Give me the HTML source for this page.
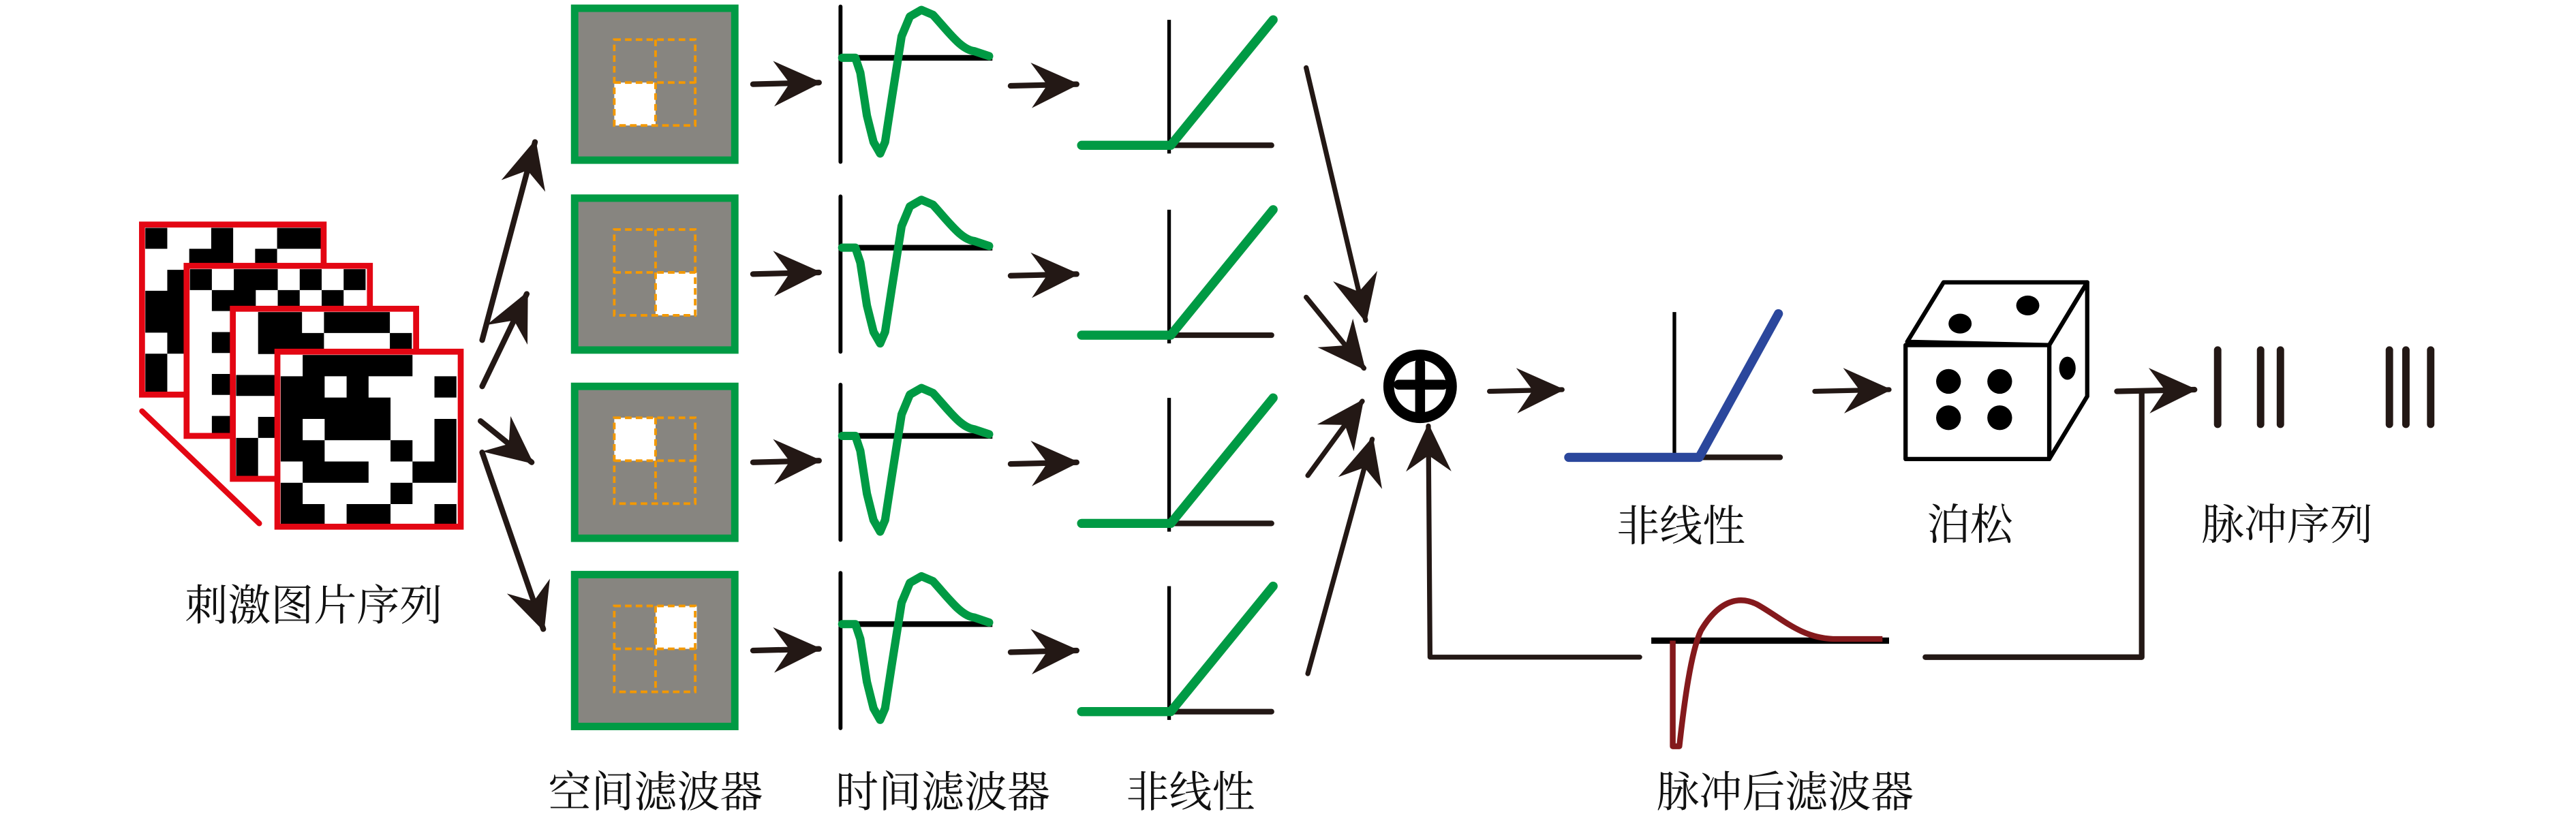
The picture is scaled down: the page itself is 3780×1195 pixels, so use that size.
<!DOCTYPE html>
<html><head><meta charset="utf-8"><style>
html,body{margin:0;padding:0;background:#fff;}
svg{display:block;}
text{font-family:"Liberation Serif","Noto Serif CJK SC",serif;font-size:26px;fill:#111;}
</style></head><body>
<svg width="3780" height="1195" viewBox="0 0 1560 493" preserveAspectRatio="none" xmlns="http://www.w3.org/2000/svg">
<defs>
<marker id="ah" markerUnits="userSpaceOnUse" markerWidth="34" markerHeight="34" viewBox="-19 -9 21 18" refX="0" refY="0" orient="auto">
<path d="M1,0 L-17,-8.5 L-11,0 L-17,8.5 z" fill="#231815"/>
</marker>
<g id="tf">
<line x1="509" y1="4" x2="509" y2="98" stroke="#000" stroke-width="2.4" stroke-linecap="round"/>
<line x1="509" y1="35" x2="601" y2="35" stroke="#000" stroke-width="3.4"/>
<path d="M510,35 L518,35 L521,44 L525,70 L529,86 L533,93 L536,86 L540,60 L546,22 L551,10 L558,6 L565,9 C575,20 582,30 590,31 L599,34" fill="none" stroke="#009a44" stroke-width="5" stroke-linejoin="round" stroke-linecap="round"/>
</g>
<g id="nl">
<line x1="708" y1="12" x2="708" y2="93" stroke="#000" stroke-width="2.2"/>
<line x1="708" y1="88" x2="770" y2="88" stroke="#231815" stroke-width="3.4" stroke-linecap="round"/>
<path d="M655,88 L709,88 L771,12" fill="none" stroke="#009a44" stroke-width="5.5" stroke-linecap="round" stroke-linejoin="round"/>
</g>
<g id="arr2">
<line x1="456" y1="51" x2="496" y2="50" stroke="#231815" stroke-width="3.4" stroke-linecap="round" marker-end="url(#ah)"/>
<line x1="612" y1="52" x2="652" y2="51" stroke="#231815" stroke-width="3.4" stroke-linecap="round" marker-end="url(#ah)"/>
</g>
</defs>

<g>
<rect x="86" y="136" width="110" height="103" fill="#fff"/>
<g transform="translate(88,138) scale(13.3,12.7)"><path d="M0 0h1v1h-1z M3 0h1v1h-1z M6 0h2v1h-2z M2 1h2v1h-2z M5 1h1v1h-1z M1 2h1v1h-1z M0 3h2v1h-2z M0 4h2v1h-2z M1 5h1v1h-1z M0 6h1v1h-1z M0 7h1v1h-1z" fill="#000"/></g>
<rect x="86" y="136" width="110" height="103" fill="none" stroke="#e30613" stroke-width="3.6"/>
</g>
<g>
<rect x="113" y="161" width="111" height="103" fill="#fff"/>
<g transform="translate(115,163) scale(13.3,12.7)"><path d="M0 0h1v1h-1z M2 0h2v1h-2z M5 0h1v1h-1z M7 0h1v1h-1z M1 1h2v1h-2z M4 1h1v1h-1z M6 1h1v1h-1z M1 3h1v1h-1z M1 5h1v1h-1z M1 7h1v1h-1z" fill="#000"/></g>
<rect x="113" y="161" width="111" height="103" fill="none" stroke="#e30613" stroke-width="3.6"/>
</g>
<g>
<rect x="141" y="187" width="111" height="103" fill="#fff"/>
<g transform="translate(143,189) scale(13.3,12.7)"><path d="M1 0h2v1h-2z M4 0h3v1h-3z M1 1h3v1h-3z M7 1h1v1h-1z M0 3h2v1h-2z M1 5h1v1h-1z M0 6h1v1h-1z M0 7h1v1h-1z" fill="#000"/></g>
<rect x="141" y="187" width="111" height="103" fill="none" stroke="#e30613" stroke-width="3.6"/>
</g>
<g>
<rect x="168" y="213" width="111" height="106" fill="#fff"/>
<g transform="translate(170,215) scale(13.3,12.9)"><path d="M1 0h5v1h-5z M0 1h2v1h-2z M3 1h1v1h-1z M7 1h1v1h-1z M0 2h5v1h-5z M0 3h1v1h-1z M2 3h3v1h-3z M7 3h1v1h-1z M0 4h2v1h-2z M5 4h1v1h-1z M7 4h1v1h-1z M1 5h3v1h-3z M6 5h2v1h-2z M0 6h1v1h-1z M5 6h1v1h-1z M0 7h2v1h-2z M3 7h2v1h-2z M7 7h1v1h-1z" fill="#000"/></g>
<rect x="168" y="213" width="111" height="106" fill="none" stroke="#e30613" stroke-width="3.6"/>
</g>
<line x1="86" y1="249" x2="157" y2="317" stroke="#e30613" stroke-width="3.4" stroke-linecap="round"/>

<g stroke="#231815" stroke-width="3.4" stroke-linecap="round">
<line x1="292" y1="206" x2="324" y2="86" marker-end="url(#ah)"/>
<line x1="292" y1="234" x2="319" y2="178" marker-end="url(#ah)"/>
<line x1="291" y1="255" x2="322" y2="280" marker-end="url(#ah)"/>
<line x1="292" y1="274" x2="329" y2="381" marker-end="url(#ah)"/>
</g>

<g>
<g>
<rect x="348" y="5" width="97" height="92" fill="#878580" stroke="#009a44" stroke-width="4.5"/>
<rect x="372" y="50" width="25" height="26" fill="#fff"/>
<g fill="none" stroke="#f39800" stroke-width="1.6" stroke-dasharray="4,2.5"><rect x="372" y="24" width="49" height="52"/><line x1="397" y1="24" x2="397" y2="76"/><line x1="372" y1="50" x2="421" y2="50"/></g>
</g>
<g transform="translate(0,115)">
<rect x="348" y="5" width="97" height="92" fill="#878580" stroke="#009a44" stroke-width="4.5"/>
<rect x="397" y="50" width="25" height="26" fill="#fff"/>
<g fill="none" stroke="#f39800" stroke-width="1.6" stroke-dasharray="4,2.5"><rect x="372" y="24" width="49" height="52"/><line x1="397" y1="24" x2="397" y2="76"/><line x1="372" y1="50" x2="421" y2="50"/></g>
</g>
<g transform="translate(0,229)">
<rect x="348" y="5" width="97" height="92" fill="#878580" stroke="#009a44" stroke-width="4.5"/>
<rect x="372" y="24" width="25" height="26" fill="#fff"/>
<g fill="none" stroke="#f39800" stroke-width="1.6" stroke-dasharray="4,2.5"><rect x="372" y="24" width="49" height="52"/><line x1="397" y1="24" x2="397" y2="76"/><line x1="372" y1="50" x2="421" y2="50"/></g>
</g>
<g transform="translate(0,343)">
<rect x="348" y="5" width="97" height="92" fill="#878580" stroke="#009a44" stroke-width="4.5"/>
<rect x="397" y="24" width="25" height="26" fill="#fff"/>
<g fill="none" stroke="#f39800" stroke-width="1.6" stroke-dasharray="4,2.5"><rect x="372" y="24" width="49" height="52"/><line x1="397" y1="24" x2="397" y2="76"/><line x1="372" y1="50" x2="421" y2="50"/></g>
</g>
</g>

<use href="#tf"/><use href="#nl"/><use href="#arr2"/>
<g transform="translate(0,115)"><use href="#tf"/><use href="#nl"/><use href="#arr2"/></g>
<g transform="translate(0,229)"><use href="#tf"/><use href="#nl"/><use href="#arr2"/></g>
<g transform="translate(0,343)"><use href="#tf"/><use href="#nl"/><use href="#arr2"/></g>

<g stroke="#231815" stroke-width="3" stroke-linecap="round">
<line x1="791" y1="41" x2="827" y2="194" marker-end="url(#ah)"/>
<line x1="791" y1="180" x2="826" y2="223" marker-end="url(#ah)"/>
<line x1="792" y1="288" x2="825" y2="243" marker-end="url(#ah)"/>
<line x1="792" y1="408" x2="831" y2="266" marker-end="url(#ah)"/>
</g>

<circle cx="860" cy="234" r="19" fill="#fff" stroke="#000" stroke-width="6.5"/>
<line x1="847" y1="233" x2="874" y2="233" stroke="#000" stroke-width="6" stroke-linecap="round"/>
<line x1="860" y1="220" x2="860" y2="251" stroke="#000" stroke-width="6" stroke-linecap="round"/>

<path d="M993,398 L866,398 L865,258" fill="none" stroke="#231815" stroke-width="3" stroke-linecap="round" stroke-linejoin="round" marker-end="url(#ah)"/>

<line x1="902" y1="237" x2="946" y2="236" stroke="#231815" stroke-width="3" stroke-linecap="round" marker-end="url(#ah)"/>

<line x1="1014" y1="189" x2="1014" y2="277" stroke="#000" stroke-width="2.2"/>
<line x1="1014" y1="277" x2="1078" y2="277" stroke="#231815" stroke-width="3.4" stroke-linecap="round"/>
<path d="M950,277 L1029,277 L1077,190" fill="none" stroke="#2b479c" stroke-width="5.5" stroke-linecap="round" stroke-linejoin="round"/>

<line x1="1099" y1="237" x2="1144" y2="236" stroke="#231815" stroke-width="3" stroke-linecap="round" marker-end="url(#ah)"/>

<g stroke="#000" stroke-width="2.6" fill="#fff" stroke-linejoin="round">
<path d="M1155,207 L1177,171 L1264,171 L1241,209 Z"/>
<path d="M1241,209 L1264,171 L1264,240 L1241,278 Z"/>
<rect x="1154" y="209" width="87" height="69"/>
</g>
<g fill="#000">
<ellipse cx="1180" cy="231" rx="7.5" ry="7.5"/><ellipse cx="1211" cy="231" rx="7.5" ry="7.5"/>
<ellipse cx="1180" cy="253" rx="7.5" ry="7.5"/><ellipse cx="1211" cy="253" rx="7.5" ry="7.5"/>
<ellipse cx="1187" cy="196" rx="7" ry="6"/><ellipse cx="1228" cy="185" rx="7" ry="6"/>
<ellipse cx="1252" cy="223" rx="5" ry="7"/>
</g>

<line x1="1282" y1="237" x2="1329" y2="236" stroke="#231815" stroke-width="3.4" stroke-linecap="round" marker-end="url(#ah)"/>
<path d="M1297,237 L1297,398 L1166,398" fill="none" stroke="#231815" stroke-width="3.4" stroke-linecap="round" stroke-linejoin="round"/>
<g stroke="#231815" stroke-width="4.5" stroke-linecap="round">
<line x1="1343" y1="212" x2="1343" y2="257"/><line x1="1369" y1="212" x2="1369" y2="257"/><line x1="1381" y1="212" x2="1381" y2="257"/>
<line x1="1447" y1="212" x2="1447" y2="257"/><line x1="1457" y1="212" x2="1457" y2="257"/><line x1="1472" y1="212" x2="1472" y2="257"/>
</g>

<line x1="1000" y1="388" x2="1144" y2="388" stroke="#000" stroke-width="3.8"/>
<path d="M1013,388 L1013,452 L1017,452 C1020,425 1024,395 1030,382 C1040,365 1052,360 1064,366 C1080,375 1090,386 1110,387 L1140,387" fill="none" stroke="#84191c" stroke-width="3.5" stroke-linejoin="round"/>

<g text-anchor="middle" dominant-baseline="central">
<text x="190" y="367">刺激图片序列</text>
<text x="397" y="480">空间滤波器</text>
<text x="571" y="480">时间滤波器</text>
<text x="721" y="480">非线性</text>
<text x="1018" y="319">非线性</text>
<text x="1193" y="318">泊松</text>
<text x="1385" y="318">脉冲序列</text>
<text x="1081" y="480">脉冲后滤波器</text>
</g>
</svg>
</body></html>
